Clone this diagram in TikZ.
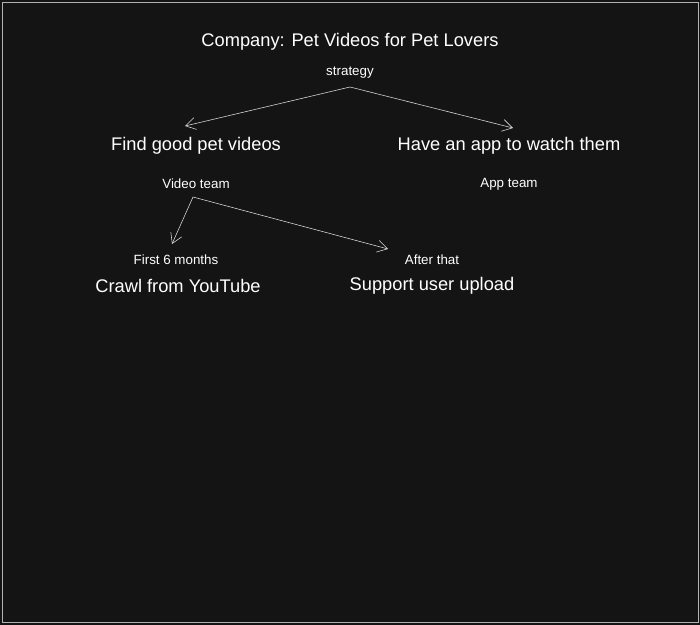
\documentclass[tikz,border=0pt]{standalone}
\usepackage{fontspec}
\setmainfont{Liberation Sans}
\usetikzlibrary{arrows.meta}

\tikzset{
  big/.style={text=white,font=\fontsize{13}{15}\selectfont},
  small/.style={text=white,font=\fontsize{9.5}{11}\selectfont},
  link/.style={draw=white!85!black,-{Straight Barb[length=2.5mm,width=3mm]}}
}

\begin{document}
\begin{tikzpicture}[x=0.025cm,y=-0.025cm]
  \path[fill=black!92] (0,0) rectangle (700,625);
  \draw[white!70!black] (2,2) rectangle (698,622);

  \node[big] (title) at (350,42) {Company: Pet Videos for Pet Lovers};
  \node[small] (strategy) at (350,73) {strategy};

  \node[big] (find) at (196,146) {Find good pet videos};
  \node[big] (app) at (509,146) {Have an app to watch them};
  \node[small] (videoteam) at (196,184) {Video team};
  \node[small] (appteam) at (509,184) {App team};

  \node[small] (first) at (176,260) {First 6 months};
  \node[big] (crawl) at (178,286) {Crawl from YouTube};
  \node[small] (after) at (432,260) {After that};
  \node[big] (upload) at (432,286) {Support user upload};

  % arrow ends
  \coordinate (s) at (350,87);
  \coordinate (v) at (193,197);
  \coordinate (findtop) at (185,126);
  \coordinate (apptop) at (513,128);
  \coordinate (firsttop) at (172,244);
  \coordinate (aftertop) at (388,249);

  \draw[link] (s) -- (findtop);
  \draw[link] (s) -- (apptop);
  \draw[link] (v) -- (firsttop);
  \draw[link] (v) -- (aftertop);
\end{tikzpicture}
\end{document}
